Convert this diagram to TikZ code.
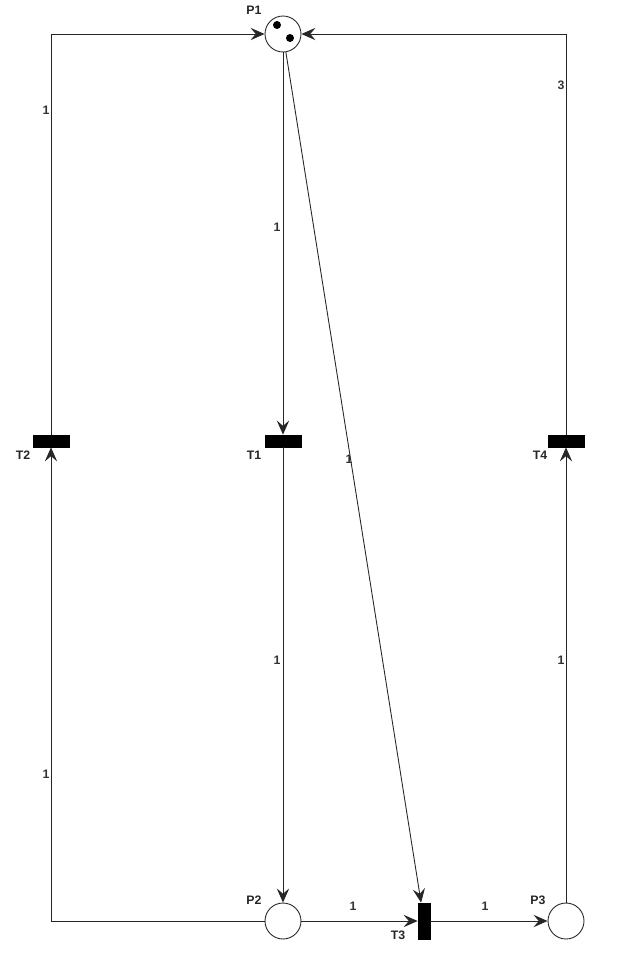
\documentclass[tikz,border=0pt]{standalone}
\usepackage{fontspec}
\setmainfont{Liberation Sans}
\usetikzlibrary{positioning, arrows.meta, calc}

\begin{document}
\begin{tikzpicture}[x=0.02cm, y=-0.02cm,
  place/.style={draw, circle, line width=0.5pt, black!85, fill=white, minimum size=0.72cm, inner sep=0pt},
  trans/.style={draw, rectangle, fill=black, minimum width=0.72cm, minimum height=0.24cm, inner sep=0pt},
  vtrans/.style={trans, minimum width=0.24cm, minimum height=0.72cm},
  token/.style={circle, fill=black, minimum size=0.16cm, inner sep=0pt},
  arc/.style={-{Stealth[length=8pt, width=7pt, inset=3pt]}, black!85, line width=0.5pt},
  lbl/.style={font=\fontsize{7}{8}\selectfont\bfseries, text=black!85, inner sep=0pt},
  wt/.style={font=\fontsize{7}{8}\selectfont\bfseries, text=black!80, inner sep=0pt}]
\useasboundingbox (0,0) rectangle (640,960);

% Places
\node[place] (P1) at (283,34) {};
\node[place] (P2) at (283,921) {};
\node[place] (P3) at (566,921) {};
\node[token] (k1) at (277,25) {};
\node[token] (k2) at (290,38) {};

% Transitions
\node[trans] (T2) at (51,441) {};
\node[trans] (T1) at (283,441) {};
\node[trans] (T4) at (566,441) {};
\node[vtrans] (T3) at (424,921) {};

% Names
\node[lbl] (nP1) at (254,10) {P1};
\node[lbl] (nP2) at (254,900) {P2};
\node[lbl] (nP3) at (538,900) {P3};
\node[lbl] (nT1) at (254,455) {T1};
\node[lbl] (nT2) at (23,455) {T2};
\node[lbl] (nT3) at (398,935) {T3};
\node[lbl] (nT4) at (540,455) {T4};

% Arcs
\draw[arc] (P1) -- (T1);
\draw[arc] (P1) -- (T3);
\draw[arc] (T1) -- (P2);
\draw[arc] (P2) -- (T3);
\draw[arc] (T3) -- (P3);
\draw[arc] (P3) -- (T4);
\draw[arc] (T4) |- (P1);
\draw[arc] (P2) -| (T2);
\draw[arc] (T2) |- (P1);

% Weights
\node[wt] (w1) at (46,110) {1};
\node[wt] (w2) at (561,85) {3};
\node[wt] (w3) at (277,227) {1};
\node[wt] (w4) at (349,459) {1};
\node[wt] (w5) at (277,660) {1};
\node[wt] (w6) at (46,774) {1};
\node[wt] (w7) at (561,660) {1};
\node[wt] (w8) at (353,906) {1};
\node[wt] (w9) at (485,906) {1};
\end{tikzpicture}
\end{document}
